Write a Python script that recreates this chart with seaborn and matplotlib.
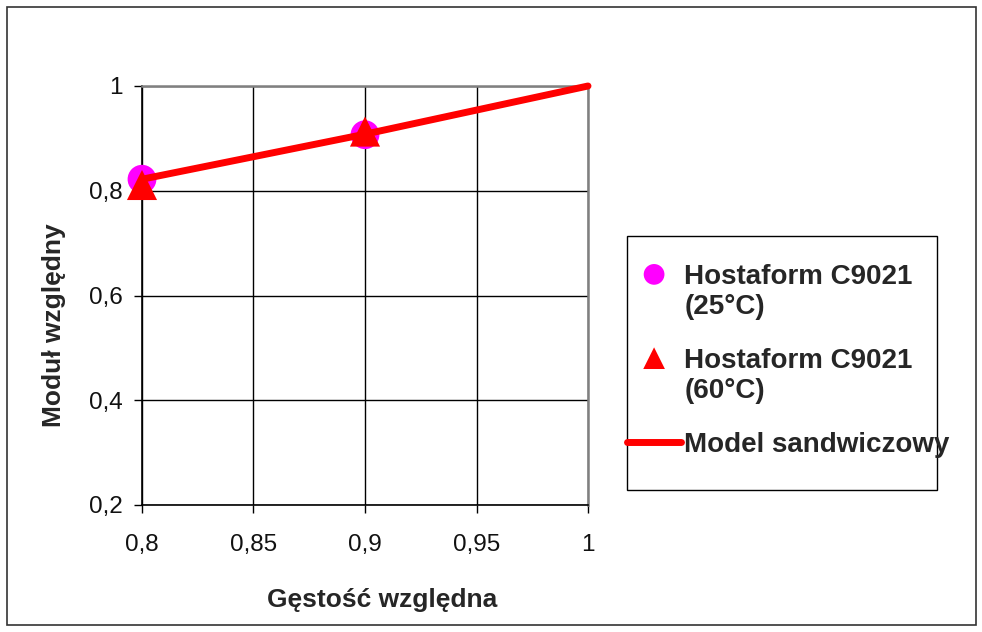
import matplotlib
matplotlib.use("Agg")
import matplotlib.pyplot as plt
import seaborn as sns
import pandas as pd
from matplotlib.patches import Rectangle

# Data
dens_25 = [0.8, 0.9]
mod_25 = [0.822, 0.907]
dens_60 = [0.8, 0.9]
mod_60 = [0.811, 0.913]
dens_model = [0.8, 0.9, 1.0]
mod_model = [0.822, 0.908, 1.0]
xticks = [0.8, 0.85, 0.9, 0.95, 1.0]
xticklabels = ["0,8", "0,85", "0,9", "0,95", "1"]
yticks = [0.2, 0.4, 0.6, 0.8, 1.0]
yticklabels = ["0,2", "0,4", "0,6", "0,8", "1"]
lab_25 = "Hostaform C9021\n(25°C)"
lab_60 = "Hostaform C9021\n(60°C)"
lab_model = "Model sandwiczowy"

W, H = 982, 632
sns.set_theme(style="white")
plt.rcParams['font.family'] = ['Liberation Sans', 'DejaVu Sans']

fig = plt.figure(figsize=(W/100, H/100), dpi=100)
ax = fig.add_axes([142/W, 1-505/H, (588-142)/W, (505-86)/H])

df_model = pd.DataFrame({"x": dens_model, "y": mod_model})
df25 = pd.DataFrame({"x": dens_25, "y": mod_25})
df60 = pd.DataFrame({"x": dens_60, "y": mod_60})

sns.scatterplot(data=df25, x="x", y="y", ax=ax, marker="o", s=430, color="#FF00FF",
                edgecolor="none", label=lab_25, zorder=3, clip_on=False)
sns.scatterplot(data=df60, x="x", y="y", ax=ax, marker="^", s=470, color="#FF0000",
                edgecolor="none", label=lab_60, zorder=4, clip_on=False)
sns.lineplot(data=df_model, x="x", y="y", ax=ax, color="#FF0000", linewidth=5,
             label=lab_model, zorder=5, clip_on=False)

ax.set_xlim(0.8, 1.0)
ax.set_ylim(0.2, 1.0)
ax.set_xticks(xticks)
ax.set_xticklabels(xticklabels)
ax.set_yticks(yticks)
ax.set_yticklabels(yticklabels)
ax.grid(True, color="black", linewidth=1.0)
ax.set_axisbelow(True)
ax.tick_params(axis="both", direction="out", length=6, width=1.0, color="black",
               labelsize=17.5, bottom=True, left=True, labelcolor="#111111")
ax.tick_params(axis="x", pad=15)
ax.tick_params(axis="y", pad=8)
for s in ["left", "bottom"]:
    ax.spines[s].set_color("black")
    ax.spines[s].set_linewidth(1.2)
for s in ["top", "right"]:
    ax.spines[s].set_color("#808080")
    ax.spines[s].set_linewidth(1.8)

ax.set_xlabel("Gęstość względna", fontsize=19, fontweight="bold")
ax.set_ylabel("Moduł względny", fontsize=19, fontweight="bold")
ax.xaxis.set_label_coords((382-142)/446, (505-588)/419)
ax.yaxis.set_label_coords((66-142)/446, (505-325)/419)

handles, labels = ax.get_legend_handles_labels()
if ax.legend_:
    ax.legend_.remove()
leg = fig.legend(handles, labels, loc="upper left",
                 bbox_to_anchor=(627/W, 1-264/H), frameon=False,
                 prop={"weight": "bold", "size": 20},
                 labelspacing=1.0, handlelength=1.95, handletextpad=0.12,
                 borderpad=0, borderaxespad=0, markerscale=0.72,
                 scatteryoffsets=[1.42])

# Legend box
fig.patches.append(Rectangle((627/W, 1-490/H), (937-627)/W, (490-236)/H,
                             transform=fig.transFigure, fill=False,
                             edgecolor="black", linewidth=1.0, zorder=0))
# Figure border
fig.patches.append(Rectangle((7/W, 7/H), (976-7)/W, (625-7)/H,
                             transform=fig.transFigure, fill=False,
                             edgecolor="#333333", linewidth=1.2))

fig.savefig("out.png", dpi=100)
